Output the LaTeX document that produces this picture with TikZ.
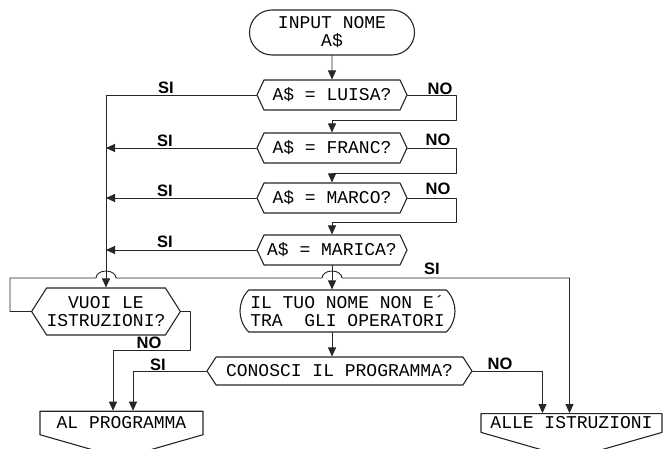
\documentclass[tikz,border=0pt]{standalone}
\usepackage{fontspec}
\setmainfont{Liberation Mono}
\newfontfamily\labelfont{Liberation Sans}
\usetikzlibrary{shapes.misc,shapes.symbols,arrows.meta,calc}

\tikzset{
  line/.style={draw=black!85, line width=0.9pt},
  flow/.style={line, -{Triangle[width=8pt,length=9pt]}},
  boxtext/.style={inner sep=0pt, align=center, font=\fontsize{18}{18}\selectfont},
  terminal/.style={boxtext, rounded rectangle, draw=black!85, line width=1.1pt},
  decision/.style={boxtext, signal, signal to=west and east, signal pointer angle=130,
    draw=black!85, line width=1.1pt, minimum width=150pt, minimum height=30pt},
  exitbox/.style={boxtext, signal, signal to=south, signal from=nowhere, signal pointer angle=148,
    draw=black!85, line width=1.1pt, minimum height=42pt},
  yesno/.style={inner sep=0pt, font=\labelfont\bfseries\fontsize{16.5}{16.5}\selectfont}
}

\begin{document}
\begin{tikzpicture}[x=1pt,y=-1pt,line cap=round,line join=round]
  \useasboundingbox (0,0) rectangle (663,449);
  % input del nome
  \node[terminal,minimum width=165pt,minimum height=45pt] (start) at (332,32.5) {INPUT NOME\\A\$};
  % confronti
  \node[decision] (luisa) at (332,95) {A\$ = LUISA?};
  \node[decision] (franc) at (332,148) {A\$ = FRANC?};
  \node[decision] (marco) at (332,198) {A\$ = MARCO?};
  \node[decision] (marica) at (332,250) {A\$ = MARICA?};
  % domande finali
  \node[decision,signal pointer angle=115,minimum width=145pt,minimum height=47pt] (vuoi) at (106,311.5) {VUOI LE\\ISTRUZIONI?};
  \node[terminal,rounded rectangle arc length=90,minimum width=215pt,minimum height=42pt] (iltuo) at (347.5,311) {IL TUO NOME NON E´\\TRA\ \ GLI OPERATORI};
  \node[decision,signal pointer angle=114,minimum width=265pt,minimum height=28pt] (conosci) at (339.5,371) {CONOSCI IL PROGRAMMA?};
  % uscite
  \node[exitbox,minimum width=163pt] (alprog) at (121.5,423) {AL PROGRAMMA};
  \node[exitbox,minimum width=181pt] (alle) at (571.5,423) {ALLE ISTRUZIONI};

  \coordinate (r1) at (456,120);
  \coordinate (r2) at (456,173);
  \coordinate (r3) at (456,222);
  \coordinate (n1) at (190,350);
  \coordinate (k1) at (10,278);

  % rami NO
  \draw[flow] (start) -- (luisa);
  \draw[flow] (luisa.east) -| (r1) -| (franc.north);
  \draw[flow] (franc.east) -| (r2) -| (marco.north);
  \draw[flow] (marco.east) -| (r3) -| (marica.north);
  % rami SI
  \draw[flow] (luisa.west) -| (vuoi.north);
  \draw[flow] (franc.west) -- (franc.west -| vuoi.north);
  \draw[flow] (marco.west) -- (marco.west -| vuoi.north);
  \draw[flow] (marica.west) -- (marica.west -| vuoi.north);
  \draw[flow] (marica.south) -- (marica.south |- iltuo.north);
  \draw[flow] (iltuo.south -| marica.south) -- (marica.south |- conosci.north);
  % ritorno con scavalcamenti
  \draw[flow] (vuoi.west) -| (k1)
    -- ($(k1 -| vuoi.north)+(-10,0)$) arc[start angle=180,end angle=0,x radius=10pt,y radius=7pt]
    -- ($(k1 -| marica.south)+(-10,0)$) arc[start angle=180,end angle=0,x radius=10pt,y radius=7pt]
    -| ($(alle.north)+(-2,0)$);
  \draw[flow] (vuoi.east) -| (n1) -| ($(alprog.north)+(-8.5,0)$);
  \draw[flow] (conosci.west) -| ($(alprog.north)+(11.5,0)$);
  \draw[flow] (conosci.east) -| ($(alle.north)+(-29,0)$);

  % etichette
  \node[yesno] (si1) at (166,88) {SI};
  \node[yesno] (si2) at (165,141) {SI};
  \node[yesno] (si3) at (165,191) {SI};
  \node[yesno] (si4) at (165,242) {SI};
  \node[yesno] (no1) at (440,89) {NO};
  \node[yesno] (no2) at (438,140) {NO};
  \node[yesno] (no3) at (438,189) {NO};
  \node[yesno] (si5) at (432,269) {SI};
  \node[yesno] (no4) at (149,343) {NO};
  \node[yesno] (si6) at (158,365) {SI};
  \node[yesno] (no5) at (500,364) {NO};
\end{tikzpicture}
\end{document}
